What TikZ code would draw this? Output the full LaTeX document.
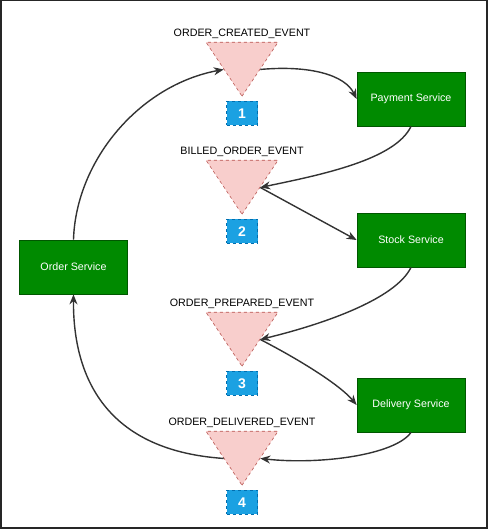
\documentclass[tikz,border=0pt]{standalone}
\usepackage{fontspec}
\setmainfont{Liberation Sans}
\usetikzlibrary{arrows.meta, positioning, shapes.geometric}
\definecolor{svcgreen}{HTML}{008A00}
\definecolor{svcedge}{HTML}{005700}
\definecolor{evtfill}{HTML}{F8CECC}
\definecolor{evtedge}{HTML}{B85450}
\definecolor{badgeblue}{HTML}{1BA1E2}
\definecolor{badgeedge}{HTML}{006EAF}
\definecolor{flow}{HTML}{333333}

\begin{document}
\begin{tikzpicture}[x=1pt, y=-1pt,
  service/.style={draw=svcedge, fill=svcgreen, text=white, line width=0.8pt,
    minimum width=108pt, minimum height=54pt, inner sep=0pt,
    font=\fontsize{10.7}{12}\selectfont},
  event/.style={isosceles triangle, isosceles triangle stretches,
    shape border rotate=270, draw=evtedge, fill=evtfill, dashed,
    line width=0.6pt, minimum width=72pt, minimum height=54pt, inner sep=0pt},
  badge/.style={draw=badgeedge, fill=badgeblue, dashed, text=white,
    line width=0.6pt, minimum width=31pt, minimum height=24pt, inner sep=0pt,
    font=\fontsize{14}{16}\selectfont\bfseries},
  evlabel/.style={font=\fontsize{10.7}{12}\selectfont, inner sep=0pt},
  flowline/.style={draw=flow, line width=1.4pt,
    -{Stealth[length=10pt, width=8pt]}}]
  \useasboundingbox (0,0) rectangle (488,529);
  % outer frame
  \draw[line width=1.5pt, black!85] (0.75,0.75) rectangle (486.75,527.75);
  % services
  \node[service] (order) at (73.5,267) {Order Service};
  \node[service] (payment) at (411,99) {Payment Service};
  \node[service] (stock) at (411,240) {Stock Service};
  \node[service] (delivery) at (411,405) {Delivery Service};
  % events with their step badges
  \foreach \i/\ay/\txt in {1/97/ORDER\_CREATED\_EVENT,
      2/215/BILLED\_ORDER\_EVENT, 3/367/ORDER\_PREPARED\_EVENT,
      4/486/ORDER\_DELIVERED\_EVENT} {
    \node[event, anchor=apex] (t\i) at (242,\ay) {};
    \node[evlabel, above=3pt of t\i.lower side] (l\i) {\txt};
    \node[badge, below=4pt of t\i.apex] (b\i) {\i};
  }
  % flows
  \draw[flowline] (order.north) .. controls (76,160) and (140,85) .. (t1.right side);
  \draw[flowline] (t1.left side) .. controls (310,65) and (345,75) .. (payment.west);
  \draw[flowline] (payment.south) .. controls (395,160) and (320,175) .. (t2.left side);
  \draw[flowline] (t2.left side) -- (stock.west);
  \draw[flowline] (stock.south) .. controls (395,300) and (320,325) .. (t3.left side);
  \draw[flowline] (t3.left side) .. controls (300,360) and (340,385) .. (delivery.west);
  \draw[flowline] (delivery.south) .. controls (395,455) and (320,465) .. (t4.left side);
  \draw[flowline] (t4.right side) .. controls (100,450) and (73,370) .. (order.south);
\end{tikzpicture}
\end{document}
